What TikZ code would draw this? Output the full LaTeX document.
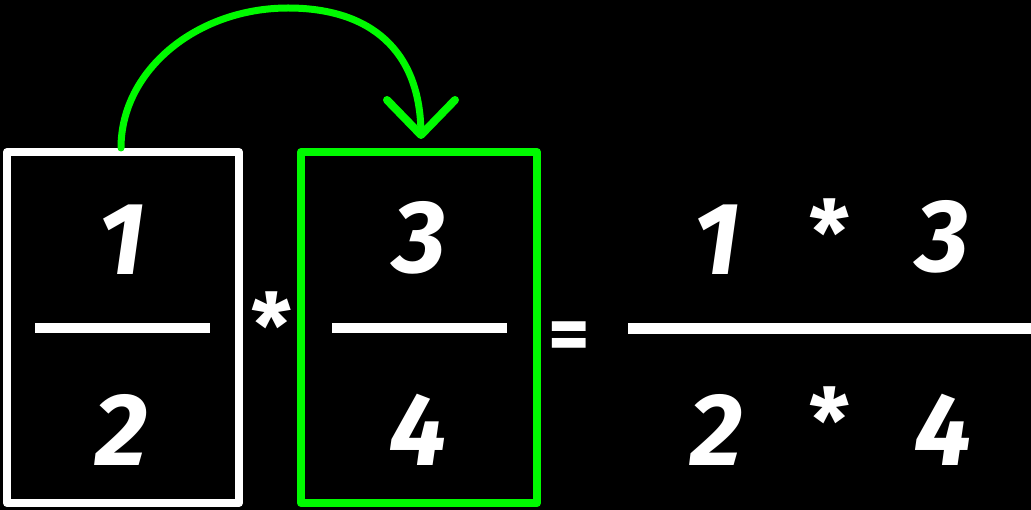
\documentclass[tikz,border=0pt]{standalone}
\usepackage{fontspec}
\setmainfont{Fira Sans}
\definecolor{chalkgreen}{RGB}{0,250,0}
\begin{document}
\begin{tikzpicture}[x=1pt,y=-1pt,
  box/.style={draw=#1, line width=8pt, inner sep=0pt, line join=round},
  bar/.style={fill=white, inner sep=0pt, minimum height=10pt},
  digit/.style={text=white, inner sep=0pt, font=\fontsize{103}{103}\selectfont\bfseries\itshape},
  op/.style={text=white, inner sep=0pt, font=\fontsize{90}{90}\selectfont\bfseries},
  eqsign/.style={text=white, inner sep=0pt, font=\fontsize{80}{80}\selectfont\bfseries},
  swing/.style={draw=chalkgreen, line width=7pt, line cap=round},
  head/.style={draw=chalkgreen, line width=8pt, line cap=round, line join=round}]
\fill[black] (0,0) rectangle (1031,510);
\useasboundingbox (0,0) rectangle (1031,510);
% left fraction
\node[box=white, minimum width=232pt, minimum height=351pt] (boxA) at (123,327.5) {};
\node[bar, minimum width=175pt] (barA) at (122.5,328) {};
\node[digit] (numA) at (122,240) {1};
\node[digit] (denA) at (122,430) {2};
% multiplication sign
\node[op] (mulA) at (272,325) {*};
% right (green) fraction
\node[box=chalkgreen, minimum width=236pt, minimum height=351pt] (boxB) at (419,327.5) {};
\node[bar, minimum width=175pt] (barB) at (419.5,328) {};
\node[digit] (numB) at (420,238) {3};
\node[digit] (denB) at (418,430) {4};
% equals
\node[eqsign] (eq) at (569,342) {=};
% result
\node[bar, minimum width=404pt, minimum height=11pt] (barC) at (830,329) {};
\node[digit] (numC1) at (717,240) {1};
\node[op] (numC2) at (830,232) {*};
\node[digit] (numC3) at (943,237) {3};
\node[digit] (denC1) at (717,430) {2};
\node[op] (denC2) at (830,420) {*};
\node[digit] (denC3) at (943,430) {4};
% arrow
\coordinate (start) at (121,148);
\coordinate (peak) at (288,8);
\coordinate (tip) at (421,135);
\coordinate (armL) at (387,100);
\coordinate (armR) at (455,100);
\draw[swing] (start) .. controls (121,70) and (197,8) .. (peak)
                     .. controls (370,8) and (421,50) .. (tip);
\draw[head] (armL) -- (tip) -- (armR);
\end{tikzpicture}
\end{document}
